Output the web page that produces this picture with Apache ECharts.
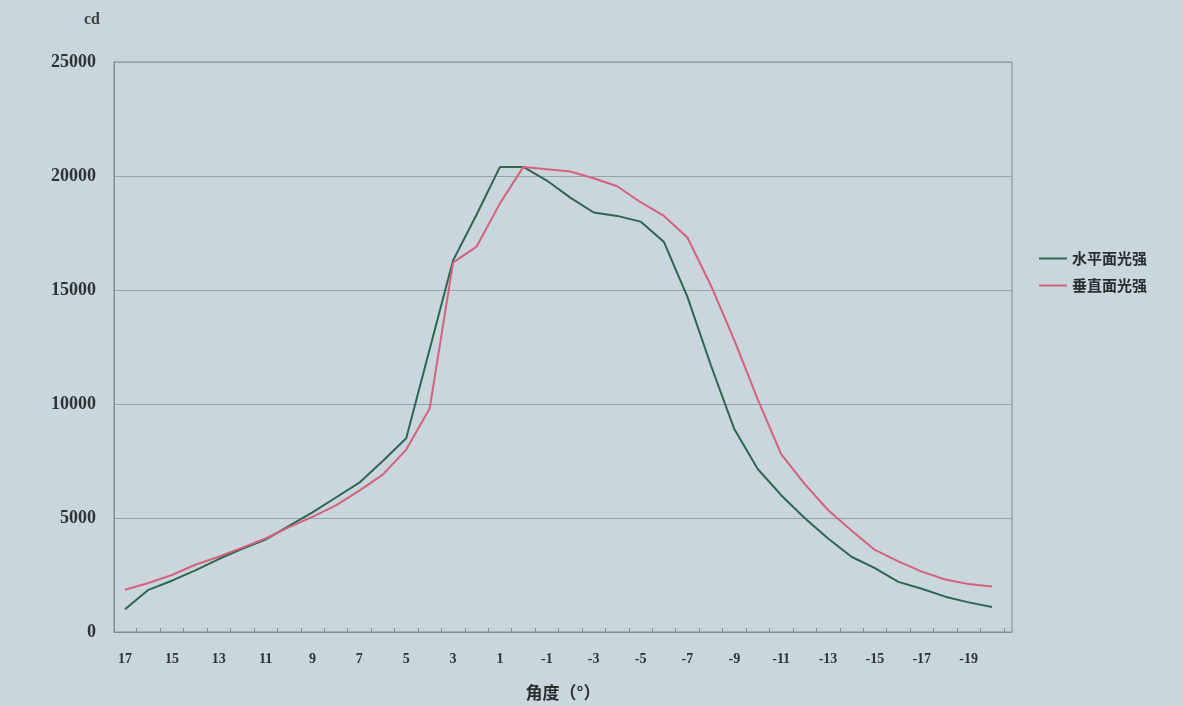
<!DOCTYPE html>
<html>
<head>
<meta charset="utf-8">
<script src="https://cdn.jsdelivr.net/npm/echarts@6/dist/echarts.min.js"></script>
<style>
  html, body { margin: 0; padding: 0; background: #c9d6de; }
  #chart { width: 1183px; height: 706px; }
</style>
</head>
<body>
<div id="chart"></div>
<script>
  // angle in degrees, from 17 down to -20
  var angles = [17, 16, 15, 14, 13, 12, 11, 10, 9, 8, 7, 6, 5, 4, 3, 2, 1, 0,
    -1, -2, -3, -4, -5, -6, -7, -8, -9, -10, -11, -12, -13, -14, -15, -16, -17, -18, -19, -20]

  var horizontal = [1000, 1850, 2250, 2700, 3200, 3650, 4050, 4650, 5250, 5900, 6550, 7500, 8500,
    12400, 16300, 18300, 20400, 20400,
    19800, 19050, 18400, 18250, 18000, 17100, 14700, 11700, 8900, 7150, 6000, 5000, 4100,
    3300, 2800, 2200, 1900, 1550, 1300, 1100]

  var vertical = [1850, 2150, 2500, 2950, 3300, 3700, 4100, 4600, 5050, 5550, 6200, 6900, 8000,
    9800, 16200, 16900, 18800, 20400,
    20300, 20200, 19900, 19550, 18850, 18250, 17300, 15200, 12800, 10200, 7800, 6500, 5350,
    4450, 3600, 3100, 2650, 2300, 2100, 2000]

  var xLabels = [17, 15, 13, 11, 9, 7, 5, 3, 1, -1, -3, -5, -7, -9, -11, -13, -15, -17, -19]
  var xTicks = [16.5, 15.5, 14.5, 13.5, 12.5, 11.5, 10.5, 9.5, 8.5, 7.5, 6.5, 5.5, 4.5, 3.5, 2.5, 1.5,
    0.5, -0.5, -1.5, -2.5, -3.5, -4.5, -5.5, -6.5, -7.5, -8.5, -9.5, -10.5, -11.5, -12.5, -13.5,
    -14.5, -15.5, -16.5, -17.5, -18.5, -19.5, -20.5]

  var seriesNames = ['水平面光强', '垂直面光强']

  function pairs (vals) {
    var out = []
    for (var i = 0; i < angles.length; i++) {
      out.push([angles[i], vals[i]])
    }
    return out
  }

  var axisColor = '#7d8f8f'
  var numFont = '"Liberation Serif", "DejaVu Serif", serif'
  var cjkFont = '"Noto Sans CJK SC", sans-serif'

  var chart = echarts.init(document.getElementById('chart'))
  chart.setOption({
    backgroundColor: '#c9d6de',
    animation: false,
    grid: {
      left: 114,
      top: 62,
      width: 898,
      height: 574,
      show: true,
      borderColor: axisColor,
      borderWidth: 1,
      backgroundColor: 'transparent'
    },
    legend: {
      orient: 'vertical',
      left: 1034,
      top: 246,
      itemWidth: 28,
      itemHeight: 2,
      itemGap: 12,
      icon: 'rect',
      data: seriesNames,
      textStyle: {
        fontFamily: cjkFont,
        fontSize: 15,
        fontWeight: 'bold',
        color: '#27302e'
      }
    },
    xAxis: {
      type: 'value',
      inverse: true,
      min: -20.85,
      max: 17.47,
      name: '角度（°）',
      nameLocation: 'middle',
      nameGap: 52,
      nameTextStyle: {
        fontFamily: cjkFont,
        fontSize: 17,
        fontWeight: 'bold',
        color: '#27302e'
      },
      axisLine: { show: true, onZero: false, lineStyle: { color: axisColor, width: 1 } },
      axisTick: {
        show: true,
        inside: true,
        length: 4,
        customValues: xTicks,
        lineStyle: { color: axisColor }
      },
      axisLabel: {
        customValues: xLabels,
        margin: 20,
        fontFamily: numFont,
        fontSize: 14,
        fontWeight: 'bold',
        color: '#2b3533'
      },
      splitLine: { show: false }
    },
    yAxis: {
      type: 'value',
      min: 0,
      max: 25000,
      interval: 5000,
      name: 'cd',
      nameLocation: 'end',
      nameGap: 34,
      nameTextStyle: {
        fontFamily: numFont,
        fontSize: 16,
        fontWeight: 'bold',
        color: '#3a4442',
        align: 'right',
        padding: [0, 14, 0, 0]
      },
      axisLine: { show: true, onZero: false, lineStyle: { color: axisColor, width: 1 } },
      axisTick: { show: false },
      axisLabel: {
        margin: 18,
        formatter: function (v) { return String(v) },
        fontFamily: numFont,
        fontSize: 18,
        fontWeight: 'bold',
        color: '#2b3533'
      },
      splitLine: { show: true, lineStyle: { color: '#93a5a5', width: 1 } }
    },
    series: [
      {
        name: seriesNames[0],
        type: 'line',
        data: pairs(horizontal),
        symbol: 'none',
        lineStyle: { color: '#2e6650', width: 2 },
        itemStyle: { color: '#2e6650' }
      },
      {
        name: seriesNames[1],
        type: 'line',
        data: pairs(vertical),
        symbol: 'none',
        lineStyle: { color: '#d4627a', width: 2 },
        itemStyle: { color: '#d4627a' }
      }
    ]
  })
</script>
</body>
</html>
